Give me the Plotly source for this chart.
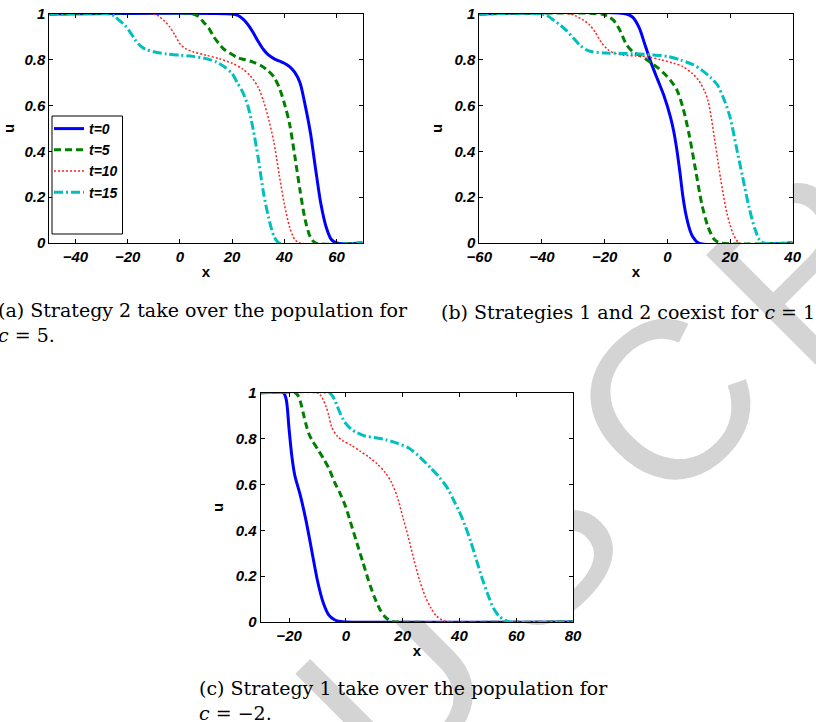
import plotly.graph_objects as go

# ---------------- data ----------------
# (a) c = 5
a_x0 = [-50, 20, 22, 24, 26, 28, 30, 32, 34, 36, 38, 40, 42, 44, 46, 48, 50, 52, 54, 56, 58, 60, 70]
a_u0 = [1, 1, 0.995, 0.98, 0.955, 0.92, 0.88, 0.845, 0.82, 0.805, 0.795, 0.785, 0.77, 0.745, 0.70, 0.60, 0.48, 0.32, 0.17, 0.07, 0.015, 0, 0]
a_x5 = [-50, 5, 7, 9, 11, 13, 15, 17, 19, 22, 25, 28, 31, 34, 36, 38, 40, 42, 44, 46, 48, 50, 52, 70]
a_u5 = [1, 1, 0.99, 0.965, 0.94, 0.9, 0.87, 0.845, 0.83, 0.81, 0.8, 0.79, 0.775, 0.75, 0.725, 0.68, 0.61, 0.52, 0.38, 0.23, 0.1, 0.025, 0, 0]
a_x10 = [-50, -10, -8, -6, -4, -2, 0, 2, 5, 10, 15, 20, 24, 27, 30, 32, 34, 36, 38, 40, 42, 44, 46, 70]
a_u10 = [1, 1, 0.99, 0.97, 0.945, 0.91, 0.87, 0.85, 0.835, 0.82, 0.805, 0.785, 0.76, 0.73, 0.68, 0.62, 0.54, 0.44, 0.3, 0.17, 0.07, 0.015, 0, 0]
a_x15 = [-50, -27, -25, -23, -21, -19, -17, -15, -13, -10, -5, 0, 5, 10, 14, 17, 20, 22, 24, 26, 28, 30, 32, 34, 36, 38, 70]
a_u15 = [1, 1, 0.99, 0.97, 0.95, 0.92, 0.885, 0.86, 0.845, 0.835, 0.825, 0.82, 0.815, 0.805, 0.79, 0.77, 0.74, 0.7, 0.66, 0.6, 0.5, 0.37, 0.22, 0.11, 0.03, 0, 0]

# (b) c = 1
b_x0 = [-60, -13, -11, -9, -7, -5, -3, -1, 1, 2, 3, 4, 5, 6, 7, 8, 10, 40]
b_u0 = [1, 1, 0.985, 0.94, 0.86, 0.78, 0.71, 0.64, 0.55, 0.49, 0.41, 0.31, 0.2, 0.12, 0.065, 0.03, 0, 0]
b_x5 = [-60, -21, -19, -17, -15, -13, -11, -9, -7, -5, -3, -1, 1, 3, 5, 7, 9, 11, 13, 15, 17, 40]
b_u5 = [1, 1, 0.99, 0.97, 0.925, 0.865, 0.835, 0.82, 0.805, 0.785, 0.765, 0.74, 0.71, 0.67, 0.59, 0.47, 0.32, 0.17, 0.07, 0.015, 0, 0]
b_x10 = [-60, -31, -29, -27, -25, -23, -21, -19, -17, -14, -10, -6, -2, 2, 5, 8, 10, 12, 13, 14, 15, 16, 17, 18, 19, 20, 21, 23, 40]
b_u10 = [1, 1, 0.99, 0.975, 0.955, 0.92, 0.875, 0.845, 0.83, 0.82, 0.817, 0.812, 0.8, 0.785, 0.77, 0.74, 0.71, 0.66, 0.62, 0.55, 0.46, 0.37, 0.28, 0.2, 0.13, 0.08, 0.04, 0, 0]
b_x15 = [-60, -40, -38, -36, -34, -32, -30, -28, -26, -24, -20, -15, -10, -5, 0, 4, 8, 11, 14, 16, 18, 20, 22, 24, 26, 28, 30, 40]
b_u15 = [1, 1, 0.99, 0.97, 0.95, 0.925, 0.895, 0.865, 0.845, 0.835, 0.83, 0.828, 0.826, 0.822, 0.815, 0.8, 0.78, 0.755, 0.72, 0.69, 0.63, 0.55, 0.42, 0.29, 0.16, 0.06, 0.005, 0]

# (c) c = -2
c_x0 = [-30, -22, -21, -20, -19, -18, -16, -14, -12, -10, -8, -6, -4, -2, 0, 80]
c_u0 = [1, 1, 0.97, 0.84, 0.72, 0.64, 0.55, 0.44, 0.31, 0.18, 0.085, 0.03, 0.01, 0.002, 0, 0]
c_x5 = [-30, -18, -17, -16, -15, -14, -13, -12, -10, -8, -6, -4, -2, 0, 2, 4, 6, 8, 10, 12, 14, 16, 18, 80]
c_u5 = [1, 1, 0.99, 0.96, 0.91, 0.86, 0.82, 0.795, 0.755, 0.715, 0.67, 0.61, 0.56, 0.5, 0.42, 0.34, 0.26, 0.18, 0.11, 0.055, 0.02, 0.003, 0, 0]
c_x10 = [-30, -10, -9, -8, -7, -6, -5, -3, -1, 2, 5, 8, 11, 14, 16, 18, 20, 22, 24, 26, 28, 30, 32, 34, 36, 80]
c_u10 = [1, 1, 0.99, 0.97, 0.94, 0.9, 0.85, 0.81, 0.79, 0.77, 0.745, 0.72, 0.69, 0.65, 0.61, 0.55, 0.46, 0.37, 0.27, 0.18, 0.11, 0.06, 0.025, 0.008, 0, 0]
c_x15 = [-30, -6, -5, -4, -3, -2, -1, 0, 2, 4, 7, 10, 14, 18, 22, 26, 30, 33, 36, 38, 40, 42, 44, 46, 48, 50, 52, 54, 56, 58, 80]
c_u15 = [1, 1, 0.99, 0.97, 0.94, 0.91, 0.885, 0.865, 0.84, 0.825, 0.81, 0.805, 0.795, 0.78, 0.76, 0.72, 0.67, 0.63, 0.58, 0.53, 0.48, 0.42, 0.35, 0.27, 0.19, 0.12, 0.06, 0.025, 0.008, 0, 0]

series_names = ["t=0", "t=5", "t=10", "t=15"]
x_ranges = {"a": [-50, 70], "b": [-60, 40], "c": [-30, 80]}
y_ticks = [0, 0.2, 0.4, 0.6, 0.8, 1]
caption_a = "(a) Strategy 2 take over the population for<br><i>c</i> = 5."
caption_b = "(b) Strategies 1 and 2 coexist for <i>c</i> = 1."
caption_c = "(c) Strategy 1 take over the population for<br><i>c</i> = −2."
watermark_letters = ["U", "S", "C", "R"]

# ---------------- styling ----------------
W, H = 816, 722
styles = [
    dict(color="#0000FF", width=3, dash="solid"),
    dict(color="#008000", width=3, dash="7px,4px"),
    dict(color="#FF2020", width=1.5, dash="2px,2px"),
    dict(color="#00BFBF", width=3, dash="9px,3px,2px,3px"),
]
TICKFONT = dict(family="Liberation Sans, Arial, sans-serif", size=15, color="black",
                weight="bold", style="italic")
LEGFONT = dict(family="Liberation Sans, Arial, sans-serif", size=14, color="black",
               weight="bold", style="italic")
TITLEFONT = dict(family="Liberation Sans, Arial, sans-serif", size=15, color="black",
                 weight="bold")
CAPFONT = dict(family="DejaVu Serif, serif", size=19, color="black")


def px_x(p):
    return p / W


def px_y(p):
    return 1 - p / H


fig = go.Figure()

panels = [
    ("", "", [(a_x0, a_u0), (a_x5, a_u5), (a_x10, a_u10), (a_x15, a_u15)], True),
    ("2", "2", [(b_x0, b_u0), (b_x5, b_u5), (b_x10, b_u10), (b_x15, b_u15)], False),
    ("3", "3", [(c_x0, c_u0), (c_x5, c_u5), (c_x10, c_u10), (c_x15, c_u15)], False),
]
for xs, ys, data, show in panels:
    for i, (xx, uu) in enumerate(data):
        fig.add_trace(go.Scatter(
            x=xx, y=uu, mode="lines", name=series_names[i],
            line=dict(color=styles[i]["color"], width=styles[i]["width"],
                      dash=styles[i]["dash"], shape="spline", smoothing=0.8),
            xaxis="x" + xs, yaxis="y" + ys, showlegend=show, legendgroup=series_names[i],
        ))

box_px = {
    "a": (49.3, 362.7, 14, 243),
    "b": (479.3, 792.7, 14, 243),
    "c": (260.7, 573, 392.7, 622),
}

common_x = dict(showline=True, linecolor="black", linewidth=1, mirror="ticks",
                ticks="inside", ticklen=4, tickcolor="black", showgrid=False, zeroline=False,
                tickfont=TICKFONT, dtick=20, tick0=0, automargin=False,
                title=dict(text="x", font=TITLEFONT, standoff=2))
common_y = dict(showline=True, linecolor="black", linewidth=1, mirror="ticks",
                ticks="inside", ticklen=4, tickcolor="black", showgrid=False, zeroline=False,
                tickfont=TICKFONT, tickvals=y_ticks, range=[0, 1], automargin=False,
                title=dict(text="u", font=TITLEFONT, standoff=8))

layout_axes = {}
for key, (xs, ys) in zip(["a", "b", "c"], [("", ""), ("2", "2"), ("3", "3")]):
    l, r, t, b = box_px[key]
    layout_axes["xaxis" + xs] = dict(common_x, domain=[px_x(l), px_x(r)],
                                     range=x_ranges[key], anchor="y" + ys)
    layout_axes["yaxis" + ys] = dict(common_y, domain=[px_y(b), px_y(t)], anchor="x" + xs)

fig.update_layout(**layout_axes)

# light grey watermark letters behind the panels
wm_centers = [(380, 668), (515, 528), (652, 388), (790, 250)]
for letter, (cx, cy) in zip(watermark_letters, wm_centers):
    fig.add_shape(type="rect", xref="paper", yref="paper",
                  x0=px_x(cx - 1), x1=px_x(cx + 1), y0=px_y(cy + 1), y1=px_y(cy - 1),
                  line=dict(width=0, color="rgba(0,0,0,0)"), fillcolor="rgba(0,0,0,0)",
                  layer="below",
                  label=dict(text=letter, textangle=-45, textposition="middle center",
                             font=dict(family="Liberation Sans, Arial, sans-serif",
                                       size=225, color="rgb(212,212,212)")))
# the panels are opaque: white boxes over the watermark, under the curves
for key in ["a", "b", "c"]:
    l, r, t, b = box_px[key]
    fig.add_shape(type="rect", xref="paper", yref="paper",
                  x0=px_x(l), x1=px_x(r), y0=px_y(b), y1=px_y(t),
                  line=dict(width=0, color="white"), fillcolor="white", layer="below")

# legend frame (MATLAB style box, taller than its entries)
fig.add_shape(type="rect", xref="paper", yref="paper",
              x0=px_x(52), x1=px_x(122.5), y0=px_y(234), y1=px_y(116),
              line=dict(color="black", width=1), fillcolor="white", layer="above")

annotations = [
    dict(text=caption_a, x=px_x(410), y=px_y(322), xanchor="right"),
    dict(text=caption_b, x=px_x(439), y=px_y(312), xanchor="left"),
    dict(text=caption_c, x=px_x(197), y=px_y(700), xanchor="left"),
]
for a in annotations:
    fig.add_annotation(xref="paper", yref="paper", yanchor="middle",
                       showarrow=False, font=CAPFONT, align="left", **a)

fig.update_layout(
    width=W, height=H, margin=dict(l=0, r=0, t=0, b=0, autoexpand=False),
    paper_bgcolor="white", plot_bgcolor="white",
    showlegend=True,
    legend=dict(x=px_x(49), y=px_y(113), xanchor="left", yanchor="top",
                bgcolor="rgba(0,0,0,0)", borderwidth=0, font=LEGFONT,
                tracegroupgap=4, traceorder="normal", itemwidth=30),
)

fig.write_html("out.html")
